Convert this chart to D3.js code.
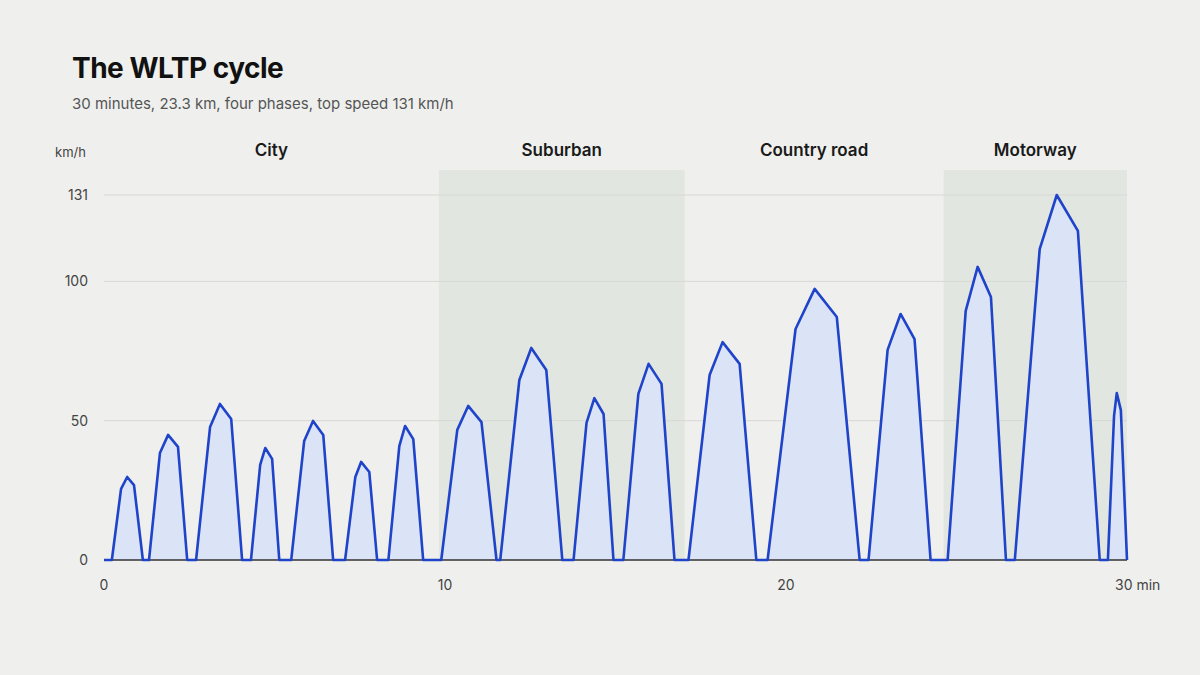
<!DOCTYPE html>
<html>
<head>
<meta charset="utf-8">
<script src="https://cdn.jsdelivr.net/npm/d3@7"></script>
<style>
  body { margin: 0; background: #eff0ed; }
  text { font-family: Inter, "Noto Sans", sans-serif; }
</style>
</head>
<body>
<svg id="chart" width="1200" height="675"></svg>
<script>
'use strict'

// speed trace, minutes / km/h
var times = [0, 0.23, 0.50, 0.68, 0.88, 1.14, 1.32, 1.64, 1.88, 2.17, 2.44, 2.70, 3.11, 3.40, 3.73, 4.05,
  4.31, 4.58, 4.73, 4.93, 5.14, 5.49, 5.87, 6.13, 6.43, 6.72, 7.07, 7.37, 7.54, 7.78, 8.01,
  8.34, 8.66, 8.83, 9.07, 9.36, 9.89, 10.36, 10.68, 11.07, 11.51, 11.62, 12.18, 12.53, 12.97, 13.44,
  13.77, 14.15, 14.38, 14.65, 14.94, 15.23, 15.67, 15.97, 16.35, 16.73, 17.14, 17.76, 18.14, 18.64, 19.13,
  19.46, 20.28, 20.84, 21.49, 22.16, 22.42, 22.98, 23.36, 23.77, 24.24, 24.74, 25.27, 25.62, 26.01, 26.45,
  26.71, 27.44, 27.94, 28.56, 29.20, 29.44, 29.62, 29.70, 29.82, 30.0];
var speeds = [0, 0, 25.5, 29.8, 26.9, 0, 0, 38.4, 44.9, 40.6, 0, 0, 47.7, 56.0, 50.6, 0,
  0, 34.1, 40.2, 36.3, 0, 0, 42.7, 49.9, 44.9, 0, 0, 29.8, 35.2, 31.6, 0,
  0, 40.9, 48.1, 43.4, 0, 0, 46.7, 55.3, 49.5, 0, 0, 64.6, 76.1, 68.2, 0,
  0, 49.2, 58.1, 52.4, 0, 0, 59.6, 70.4, 63.2, 0, 0, 66.4, 78.2, 70.4, 0,
  0, 82.9, 97.3, 87.2, 0, 0, 75.4, 88.3, 79.3, 0, 0, 89.4, 105.2, 94.4, 0,
  0, 111.6, 131, 118.1, 0, 0, 51.7, 59.9, 53.8, 0];

var phaseNames = ["City", "Suburban", "Country road", "Motorway"];
var phaseStart = [0, 9.82, 17.03, 24.62];
var phaseEnd = [9.82, 17.03, 24.62, 30];
var phaseShaded = [false, true, false, true];

var yTicks = [0, 50, 100, 131];
var xTicks = [0, 10, 20, 30];

var svg = d3.select("#chart");
var x = d3.scaleLinear().domain([0, 30]).range([104, 1127]);
var y = d3.scaleLinear().domain([0, 131]).range([560, 195]);

var data = times.map(function(t, i){ return {t: t, v: speeds[i]}; });

// phase bands
svg.selectAll("rect.band").data(phaseNames).enter()
  .filter(function(d, i){ return phaseShaded[i]; })
  .append("rect")
  .attr("x", function(d){ return x(phaseStart[phaseNames.indexOf(d)]); })
  .attr("width", function(d){ var i = phaseNames.indexOf(d); return x(phaseEnd[i]) - x(phaseStart[i]); })
  .attr("y", 170).attr("height", 390)
  .attr("fill", "#e2e6e1");

svg.selectAll("text.phase").data(phaseNames).enter()
  .append("text")
  .attr("x", function(d, i){ return x((phaseStart[i] + phaseEnd[i]) / 2); })
  .attr("y", 156)
  .attr("text-anchor", "middle")
  .attr("font-size", 17).attr("font-weight", 600).attr("fill", "#1a1a1a")
  .text(function(d){ return d; });

// gridlines + y labels
svg.selectAll("line.grid").data(yTicks.filter(function(d){ return d > 0; })).enter()
  .append("line")
  .attr("x1", 104).attr("x2", 1127)
  .attr("y1", function(d){ return y(d); }).attr("y2", function(d){ return y(d); })
  .attr("stroke", "#d6d8d4").attr("stroke-width", 1);

svg.selectAll("text.ytick").data(yTicks).enter()
  .append("text")
  .attr("x", 88).attr("y", function(d){ return y(d) + 5; })
  .attr("text-anchor", "end").attr("font-size", 14).attr("fill", "#444")
  .text(function(d){ return d; });

svg.append("text").attr("x", 55).attr("y", 157)
  .attr("font-size", 13).attr("fill", "#444").text("km/h");

// area + line
svg.append("path").datum(data)
  .attr("d", d3.area().x(function(d){ return x(d.t); }).y0(y(0)).y1(function(d){ return y(d.v); }))
  .attr("fill", "#dbe3f6");

svg.append("line").attr("x1", 104).attr("x2", 1127).attr("y1", y(0)).attr("y2", y(0))
  .attr("stroke", "#333").attr("stroke-width", 1.5);

svg.append("path").datum(data)
  .attr("d", d3.line().x(function(d){ return x(d.t); }).y(function(d){ return y(d.v); }))
  .attr("fill", "none").attr("stroke", "#1f44c9").attr("stroke-width", 2.6)
  .attr("stroke-linejoin", "round");

// x labels
svg.selectAll("text.xtick").data(xTicks).enter()
  .append("text")
  .attr("x", function(d){ return x(d); }).attr("y", 590)
  .attr("text-anchor", function(d){ return d === 30 ? "start" : "middle"; })
  .attr("dx", function(d){ return d === 30 ? -12 : 0; })
  .attr("font-size", 14).attr("fill", "#444")
  .text(function(d){ return d === 30 ? "30 min" : d; });

// titles
svg.append("text").attr("x", 72).attr("y", 78)
  .attr("font-size", 28).attr("font-weight", 700).attr("fill", "#111")
  .attr("letter-spacing", -0.5).text("The WLTP cycle");
svg.append("text").attr("x", 72).attr("y", 109)
  .attr("font-size", 15).attr("fill", "#555")
  .text("30 minutes, 23.3 km, four phases, top speed 131 km/h");
</script>
</body>
</html>
